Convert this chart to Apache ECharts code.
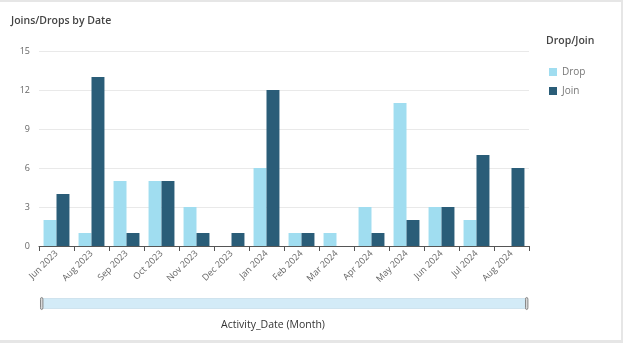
<!DOCTYPE html>
<html><head><meta charset="utf-8">
<script src="https://cdn.jsdelivr.net/npm/echarts@6/dist/echarts.min.js"></script>
<style>
html,body{margin:0;padding:0;background:#fff;}
#wrap{position:absolute;left:0;top:0;width:621px;height:338px;border-top:2px solid #e6e6e6;border-right:2px solid #e6e6e6;border-bottom:3px solid #e6e6e6;}
#c{width:624px;height:343px;position:absolute;left:0;top:0;}
</style></head>
<body><div id="wrap"></div><div id="c"></div>
<script>
const categories = ['Jun 2023','Aug 2023','Sep 2023','Oct 2023','Nov 2023','Dec 2023','Jan 2024','Feb 2024','Mar 2024','Apr 2024','May 2024','Jun 2024','Jul 2024','Aug 2024'];
const dropValues = [2,1,5,5,3,0,6,1,1,3,11,3,2,0];
const joinValues = [4,13,1,5,1,1,12,1,0,1,2,3,7,6];
const yTicks = {min:0, max:15, interval:3};

const font = 'Open Sans';
const chart = echarts.init(document.getElementById('c'), null, {renderer:'canvas'});
chart.setOption({
  animation:false,
  textStyle:{fontFamily:font},
  title:{text:'Joins/Drops by Date', left:6, top:11, textStyle:{fontSize:10.5, fontWeight:600, color:'#444', fontFamily:font}},
  legend:{
    orient:'vertical', left:544, top:62, itemWidth:8, itemHeight:8, itemGap:9,
    icon:'rect', textStyle:{fontSize:10, color:'#777', fontFamily:font},
    data:['Drop','Join']
  },
  graphic:[
    {type:'text', left:546, top:36, style:{text:'Drop/Join', font:'600 10.5px "Open Sans"', fill:'#444'}},
    {type:'text', left:221, top:320, style:{text:'Activity_Date (Month)', font:'10.5px "Open Sans"', fill:'#333'}}
  ],
  grid:{left:39, right:95, top:51, bottom:97},
  xAxis:{
    type:'category', data:categories,
    axisLine:{lineStyle:{color:'#555'}},
    axisTick:{show:true, alignWithLabel:false, length:5, lineStyle:{color:'#555'}},
    axisLabel:{rotate:45, fontSize:9, color:'#666', margin:6, fontFamily:font}
  },
  yAxis:{
    type:'value', min:yTicks.min, max:yTicks.max, interval:yTicks.interval,
    axisLine:{show:false}, axisTick:{show:false},
    axisLabel:{fontSize:9, color:'#666', margin:9, fontFamily:font},
    splitLine:{lineStyle:{color:'#e9e9e9'}}
  },
  dataZoom:[{
    type:'slider', xAxisIndex:0, left:40, right:97, top:298, height:11,
    start:0, end:100, showDetail:false, showDataShadow:false, brushSelect:false,
    moveHandleSize:0, borderColor:'#cfe3ee', backgroundColor:'#d3ebf7',
    fillerColor:'#d3ebf7',
    handleIcon:'path://M2,0 Q4,0 4,3 L4,17 Q4,20 2,20 Q0,20 0,17 L0,3 Q0,0 2,0 Z',
    handleSize:'110%', handleStyle:{color:'#d9d9d9', borderColor:'#888', borderWidth:1}
  }],
  series:[
    {name:'Drop', type:'bar', data:dropValues, barGap:'0%', barCategoryGap:'26%',
     itemStyle:{color:'#a0ddf0'}},
    {name:'Join', type:'bar', data:joinValues, barGap:'0%', barCategoryGap:'26%',
     itemStyle:{color:'#2a5d78'}}
  ]
});
</script></body></html>
